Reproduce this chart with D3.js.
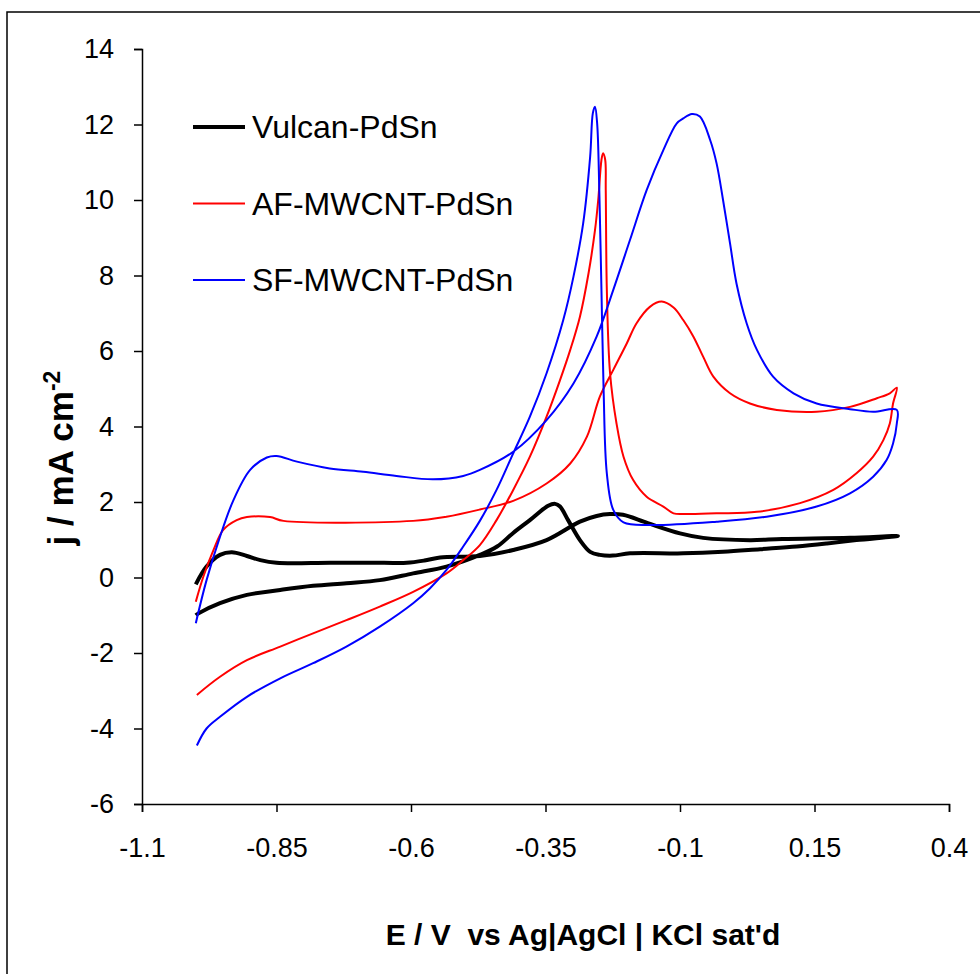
<!DOCTYPE html>
<html>
<head>
<meta charset="utf-8">
<script src="https://cdn.jsdelivr.net/npm/d3@7"></script>
<style>
  body { margin: 0; background: #fff; }
  text { font-family: "Liberation Sans", Arial, sans-serif; fill: #000; }
</style>
</head>
<body>
<div id="chart"></div>
<script>
// cyclic voltammograms, [E (V), j (mA cm-2)]
var vulcan = [[-1.0,-0.18],[-0.98,0.29],[-0.955,0.6],[-0.933,0.67],[-0.905,0.57],[-0.88,0.46],[-0.85,0.39],[-0.75,0.39],[-0.65,0.39],[-0.608,0.39],[-0.575,0.45],[-0.546,0.53],[-0.472,0.57],[-0.41,0.73],[-0.348,0.99],[-0.286,1.48],[-0.255,1.63],[-0.23,1.68],[-0.206,1.66],[-0.16,1.44],[-0.1,1.17],[-0.057,1.05],[0.03,0.99],[0.09,1.02],[0.216,1.05],[0.305,1.1],
  [0.228,0.99],[0.173,0.9],[0.117,0.82],[0.049,0.75],[-0.02,0.68],[-0.094,0.64],[-0.193,0.64],[-0.225,0.58],[-0.249,0.6],[-0.267,0.68],[-0.286,0.99],[-0.308,1.52],[-0.323,1.88],[-0.332,1.95],[-0.345,1.9],[-0.379,1.52],[-0.41,1.18],[-0.44,0.82],[-0.472,0.6],[-0.534,0.29],[-0.596,0.11],[-0.658,-0.07],[-0.72,-0.15],[-0.782,-0.22],[-0.843,-0.33],[-0.905,-0.46],[-0.955,-0.68],[-0.995,-0.95],[-1.0,-1.0]];

var afmwcnt = [[-1.0,-0.64],[-0.986,0.02],[-0.967,0.73],[-0.949,1.26],[-0.924,1.52],[-0.905,1.6],[-0.862,1.6],[-0.837,1.5],[-0.596,1.5],[-0.534,1.61],[-0.472,1.8],[-0.41,2.03],[-0.348,2.49],[-0.304,3.02],[-0.273,3.73],[-0.249,4.79],[-0.224,5.5],[-0.199,6.2],[-0.181,6.73],[-0.156,7.17],[-0.134,7.31],[-0.112,7.15],[-0.094,6.82],[-0.075,6.38],[-0.057,5.85],[-0.038,5.32],[-0.007,4.88],[0.03,4.61],[0.08,4.44],[0.154,4.39],[0.216,4.52],[0.266,4.75],[0.29,4.88],[0.303,5.03],
  [0.296,4.61],[0.29,4.08],[0.278,3.64],[0.259,3.2],[0.228,2.76],[0.185,2.32],[0.123,1.97],[0.043,1.74],[-0.032,1.7],[-0.094,1.68],[-0.112,1.7],[-0.131,1.88],[-0.162,2.14],[-0.187,2.58],[-0.205,3.2],[-0.218,4.08],[-0.23,5.41],[-0.236,7.62],[-0.238,10.26],[-0.239,11.06],[-0.243,11.24],[-0.246,11.06],[-0.252,10.0],[-0.258,9.2],[-0.27,8.06],[-0.286,6.91],[-0.304,6.03],[-0.323,5.23],[-0.348,4.26],[-0.379,3.2],[-0.41,2.32],[-0.441,1.52],[-0.472,0.86],[-0.503,0.46],[-0.534,0.11],[-0.596,-0.38],[-0.658,-0.77],[-0.72,-1.13],[-0.782,-1.48],[-0.843,-1.83],[-0.905,-2.19],[-0.955,-2.63],[-0.998,-3.11]];

var sfmwcnt = [[-1.0,-1.21],[-0.98,-0.07],[-0.955,1.08],[-0.93,2.05],[-0.899,2.85],[-0.868,3.18],[-0.85,3.22],[-0.812,3.07],[-0.751,2.89],[-0.689,2.8],[-0.627,2.69],[-0.559,2.6],[-0.503,2.69],[-0.472,2.85],[-0.41,3.33],[-0.348,4.17],[-0.298,5.14],[-0.255,6.38],[-0.224,7.62],[-0.193,8.94],[-0.162,10.26],[-0.131,11.32],[-0.106,12.03],[-0.094,12.16],[-0.078,12.28],[-0.063,12.21],[-0.044,11.59],[-0.032,10.97],[-0.02,10.0],[-0.007,8.85],[0.005,7.79],[0.024,6.73],[0.043,6.03],[0.073,5.32],[0.111,4.88],[0.154,4.61],[0.216,4.46],[0.259,4.39],[0.303,4.44],
  [0.303,4.08],[0.296,3.55],[0.284,3.11],[0.259,2.67],[0.216,2.23],[0.154,1.88],[0.061,1.61],[-0.032,1.48],[-0.156,1.39],[-0.205,1.46],[-0.224,1.79],[-0.236,2.76],[-0.242,4.97],[-0.246,7.62],[-0.25,10.26],[-0.254,12.03],[-0.258,12.47],[-0.262,12.3],[-0.267,11.15],[-0.28,9.38],[-0.298,7.97],[-0.317,6.82],[-0.348,5.41],[-0.379,4.26],[-0.41,3.29],[-0.441,2.32],[-0.472,1.5],[-0.503,0.82],[-0.534,0.2],[-0.565,-0.29],[-0.596,-0.68],[-0.658,-1.3],[-0.72,-1.83],[-0.782,-2.27],[-0.843,-2.67],[-0.905,-3.16],[-0.955,-3.69],[-0.98,-4.0],[-0.998,-4.45]];

var seriesNames = ["Vulcan-PdSn", "AF-MWCNT-PdSn", "SF-MWCNT-PdSn"];
var xTicks = [-1.1, -0.85, -0.6, -0.35, -0.1, 0.15, 0.4];
var yTicks = [-6, -4, -2, 0, 2, 4, 6, 8, 10, 12, 14];

var width = 980,
  height = 974,
  svg = d3
    .select("#chart")
    .append("svg")
    .attr("width", width)
    .attr("height", height);

// outer frame (runs off the right and bottom edges)
svg.append("rect")
  .attr("x", 7).attr("y", 12)
  .attr("width", 1000).attr("height", 1000)
  .attr("fill", "none")
  .attr("stroke", "#000")
  .attr("stroke-width", 1.5);

var x = d3.scaleLinear().domain([-1.1, 0.4]).range([142, 949]);
var y = d3.scaleLinear().domain([-6, 14]).range([804, 49]);

// plain hyphen for negatives, like the original
var fmt = function(d) { return String(+d.toFixed(2)); };

svg.append("g")
  .attr("transform", "translate(0,804)")
  .call(d3.axisBottom(x).tickValues(xTicks).tickSizeOuter(0).tickSize(8).tickPadding(26).tickFormat(fmt));

svg.append("g")
  .attr("transform", "translate(142,0)")
  .call(d3.axisLeft(y).tickValues(yTicks).tickSizeOuter(0).tickSize(8).tickPadding(20).tickFormat(fmt));

svg.selectAll(".tick text")
  .style("font-family", '"Liberation Sans", Arial, sans-serif')
  .style("font-size", "27px");
svg.selectAll(".domain, .tick line")
  .attr("stroke", "#000")
  .attr("stroke-width", 1.5);

var line = d3.line()
  .curve(d3.curveCatmullRom.alpha(0.5))
  .x(function(d) { return x(d[0]); })
  .y(function(d) { return y(d[1]); });

var series = [
  { name: seriesNames[0], data: vulcan, color: "#000", w: 4 },
  { name: seriesNames[1], data: afmwcnt, color: "#ff0000", w: 2 },
  { name: seriesNames[2], data: sfmwcnt, color: "#0000ff", w: 2 }
];

series.forEach(function(s) {
  svg.append("path")
    .datum(s.data)
    .attr("d", line)
    .attr("fill", "none")
    .attr("stroke", s.color)
    .attr("stroke-width", s.w)
    .attr("stroke-linejoin", "round");
});

// legend
var legend = svg.append("g");
series.forEach(function(s, i) {
  var ly = 127 + i * 76.5;
  legend.append("line")
    .attr("x1", 193).attr("x2", 245)
    .attr("y1", ly).attr("y2", ly)
    .attr("stroke", s.color)
    .attr("stroke-width", s.w);
  legend.append("text")
    .attr("x", 252).attr("y", ly + 11)
    .style("font-size", "32px")
    .text(s.name);
});

// axis titles
svg.append("text")
  .attr("x", 583).attr("y", 945)
  .attr("text-anchor", "middle")
  .attr("xml:space", "preserve")
  .style("font-size", "30px")
  .style("font-weight", "bold")
  .text("E / V  vs Ag|AgCl | KCl sat'd");

var yt = svg.append("text")
  .attr("transform", "translate(73,458) rotate(-90)")
  .attr("text-anchor", "middle")
  .style("font-size", "35px")
  .style("font-weight", "bold");
yt.append("tspan").text("j / mA cm");
yt.append("tspan").attr("dy", -13).style("font-size", "23px").text("-2");
</script>
</body>
</html>
